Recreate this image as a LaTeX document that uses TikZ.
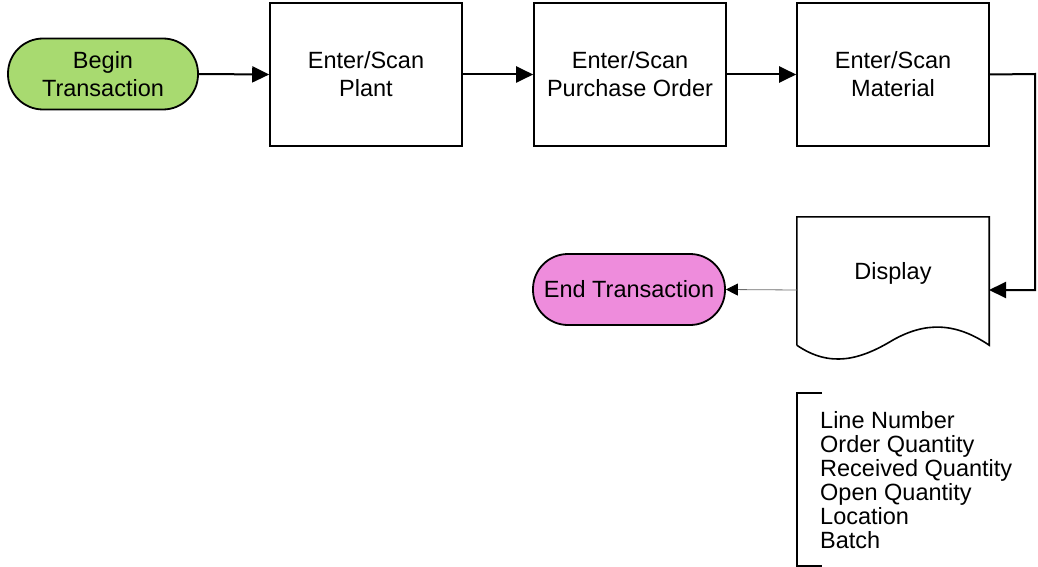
\documentclass[tikz,border=0pt]{standalone}
\usepackage{fontspec}
\setmainfont{Liberation Sans}
\usetikzlibrary{arrows.meta}
\definecolor{begfill}{RGB}{168,218,112}
\definecolor{endfill}{RGB}{238,140,220}
\definecolor{thinline}{RGB}{110,110,110}
\begin{document}
\begin{tikzpicture}[x=1pt,y=-1pt,
  every node/.style={font=\fontsize{23.5}{28}\selectfont, align=center, inner sep=0pt},
  terminal/.style={draw, line width=1.8pt, rounded corners=35pt, minimum width=190pt, minimum height=71pt},
  procbox/.style={draw, line width=1.6pt, minimum width=192pt, minimum height=143pt},
  flow/.style={line width=2pt, -{Triangle[length=17pt,width=16pt]}},
  thinflow/.style={line width=0.8pt, draw=thinline, -{Triangle[length=12pt,width=12pt,fill=black,color=black]}}
]
\useasboundingbox (0,0) rectangle (1038,567);
\node[terminal, fill=begfill] (begin) at (103,74) {Begin\\Transaction};
\node[procbox] (plant) at (366,74.5) {Enter/Scan\\Plant};
\node[procbox] (po) at (630,74.5) {Enter/Scan\\Purchase Order};
\node[procbox] (mat) at (893,74.5) {Enter/Scan\\Material};
% Display document shape
\node[minimum width=192pt, minimum height=128pt] (disp) at (893,281) {};
\draw[line width=1.6pt] (disp.south west) -- (disp.north west) -- (disp.north east) -- (disp.south east)
  .. controls (955,322) and (925,322) .. (893,340)
  .. controls (860,360) and (830,368) .. (disp.south west);
\node (dispt) at (893,273) {Display};
\node[terminal, fill=endfill, minimum width=192pt] (end) at (629,289.5) {End Transaction};
\coordinate (corner1) at (1035,74);
\coordinate (corner2) at (1035,290);
\coordinate (dispin) at (989,290);
\coordinate (dispout) at (797,290);
\draw[flow] (begin.east) -- (plant.west);
\draw[flow] (plant.east) -- (po.west);
\draw[flow] (po.east) -- (mat.west);
\draw[flow] (mat.east) -- (corner1) -- (corner2) -- (dispin);
\draw[thinflow] (dispout) -- (end.east);
% annotation
\draw[line width=1.6pt] (822,393) -- (797,393) -- (797,566) -- (822,566);
\node[anchor=west, align=left, font=\fontsize{23.5}{24}\selectfont] (notes) at (820,480)
  {Line Number\\Order Quantity\\Received Quantity\\Open Quantity\\Location\\Batch};
\end{tikzpicture}
\end{document}
